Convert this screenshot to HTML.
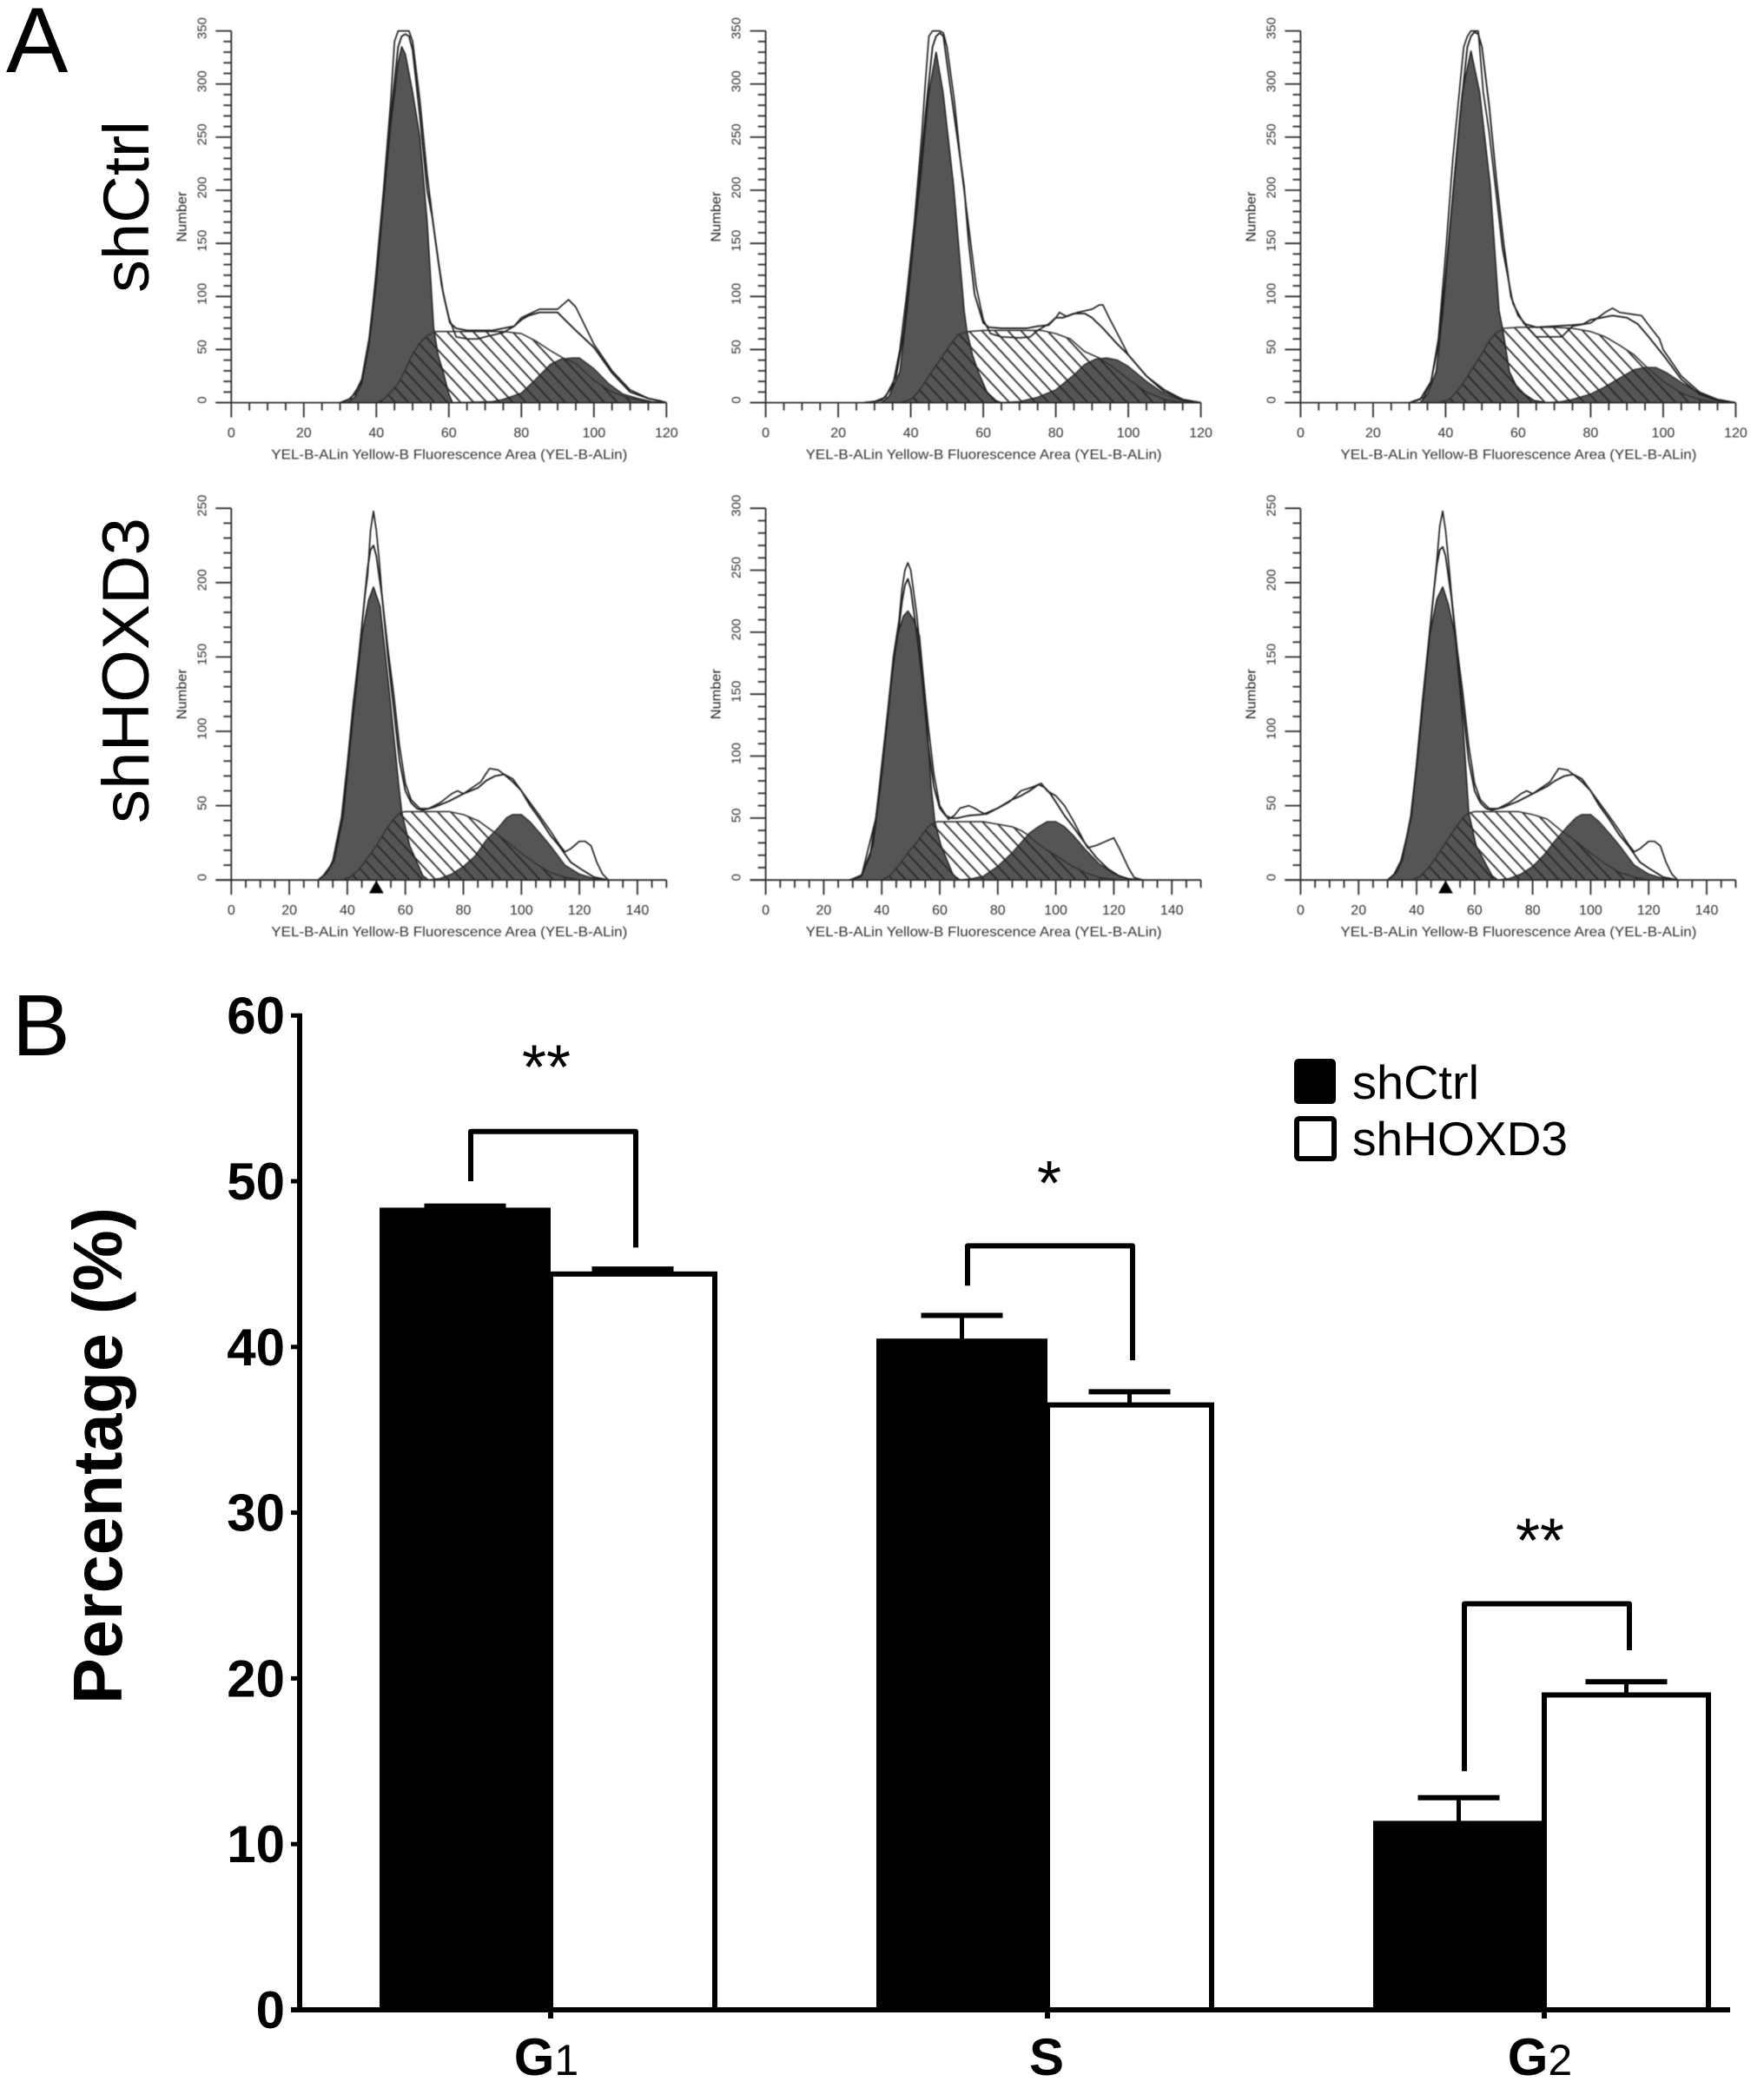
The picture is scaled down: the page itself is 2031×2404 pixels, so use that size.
<!DOCTYPE html>
<html lang="en">
<head>
<meta charset="utf-8">
<title>Cell cycle histograms and phase percentages</title>
<style>
html,body{margin:0;padding:0;background:#fff;}
svg{display:block;font-family:"Liberation Sans",sans-serif;}
</style>
</head>
<body>
<svg id="figure" xmlns="http://www.w3.org/2000/svg" width="2031" height="2404" viewBox="0 0 2031 2404">
<defs>
<pattern id="hatch" patternUnits="userSpaceOnUse" width="11" height="11" patternTransform="rotate(47)">
<line x1="0" y1="5" x2="11" y2="5" stroke="#222" stroke-width="1.7"/>
</pattern>
<filter id="soft" x="0" y="0" width="100%" height="100%"><feGaussianBlur stdDeviation="0.6"/></filter>
</defs>
<rect width="2031" height="2404" fill="#fff"/>
<text x="7" y="83" font-size="107" fill="#000">A</text>
<text x="14" y="1215" font-size="100" fill="#000">B</text>
<text transform="translate(171 238) rotate(-90)" text-anchor="middle" font-size="74" textLength="198" lengthAdjust="spacingAndGlyphs" fill="#000">shCtrl</text>
<text transform="translate(171 772) rotate(-90)" text-anchor="middle" font-size="76" textLength="352" lengthAdjust="spacingAndGlyphs" fill="#000">shHOXD3</text>
<g id="histograms" filter="url(#soft)"></g>
<g id="bars"></g>
<g>
<rect x="1491" y="1220" width="46" height="50" rx="4" fill="#000" stroke="#000" stroke-width="2"/>
<text x="1557" y="1265" font-size="55" textLength="146" lengthAdjust="spacingAndGlyphs" fill="#000">shCtrl</text>
<rect x="1493" y="1288" width="43" height="46" rx="3" fill="#fff" stroke="#000" stroke-width="6"/>
<text x="1557" y="1330" font-size="55" textLength="248" lengthAdjust="spacingAndGlyphs" fill="#000">shHOXD3</text>
</g>
</svg>
<script>
// ---------- Bar chart data ----------
const phaseCategories = ['G', 'S', 'G'];
const phaseSubscripts = ['1', '', '2'];
const shCtrlValues = [48.3, 40.4, 11.3];
const shHoxd3Values = [44.4, 36.5, 19.0];
const shCtrlErrors = [0.2, 1.5, 1.5];
const shHoxd3Errors = [0.3, 0.8, 0.8];
const percentTicks = [0, 10, 20, 30, 40, 50, 60];
const bracketTopValues = [53.0, 46.1, 24.5];
const bracketLeftEndValues = [50.0, 43.7, 14.4];
const bracketRightEndValues = [46.0, 39.2, 21.7];
const significanceMarks = ['**', '*', '**'];
const significanceValues = [58.2, 51.2, 29.65];

// ---------- Histogram data: [channel, count] ----------
const p1G1 = [[32,0],[34,5],[36,18],[38,55],[40,112],[42,190],[44,262],[46,320],[47,335],[48,328],[50,292],[52,250],[54,170],[55.8,70],[57,45],[58.5,28],[60,8],[61,0]];
const p1S = [[40,0],[42,3],[44,10],[46,18],[48,31],[50,46],[52,56],[54,63],[56,67],[65,67],[75,67],[80,65],[84,58],[88,49],[91.5,42],[95,37],[100,21],[105,10],[110,4],[115,1],[118,0]];
const p1G2 = [[62,0],[72,1],[75,3],[80,9],[84,22],[88,36],[91,41],[94,42],[96,42],[100,32],[104,18],[108,8],[112,4],[116,1],[119,0]];
const p1Fit = [[30,0],[32,2],[34,8],[36,22],[38,60],[40,120],[42,190],[44,270],[46,335],[47,345],[48,347],[49,345],[50,332],[52,270],[54,200],[55.4,175],[57.2,131],[58.5,102],[60.3,75],[62,70],[65,68],[72,68],[75,70],[78,72],[80,78],[82,82],[85,85],[90,85],[92,78],[95,68],[100,52],[105,28],[110,10],[115,4],[120,0]];
const p1Raw = [[30,0],[33,4],[36,20],[38,55],[40,125],[42,200],[44,285],[45,340],[46,350],[49,350],[50,340],[52,285],[54,215],[56,160],[58,110],[60,80],[62,62],[65,60],[68,60],[70,62],[75,66],[78,72],[80,80],[85,88],[90,88],[93,97],[95,90],[100,55],[105,30],[110,12],[115,4],[118,2],[120,0]];

const p2G1 = [[32,0],[34,6],[37,29],[39,87],[41,160],[42.5,204],[45,292],[47,330],[48.9,292],[51.8,204],[54.7,87],[55.5,67],[57,45],[58.6,29],[61,10],[63.5,2],[65,0]];
const p2S = [[37,0],[40,3],[42,10],[45,25],[48,40],[51,55],[53,64],[56,67],[60,68],[70,68],[76,68],[80,65],[84,60],[88,48],[92,42],[96,33],[100,22],[105,10],[110,3],[115,0]];
const p2G2 = [[65,0],[70,1],[75,5],[80,12],[85,26],[88,36],[91,41],[94,42],[97,40],[100,34],[105,20],[110,8],[115,2],[119,0]];
const p2Fit = [[27,0],[30,1],[33,5],[36,25],[38,65],[40,125],[42,195],[44,270],[46,335],[47,345],[48,348],[49,345],[50,320],[52,270],[54.7,204],[56,150],[57.6,102],[60,75],[61.5,71],[65,70],[72,70],[75,72],[78,73],[80,80],[82,80],[85,84],[88,84],[90,80],[93,70],[97,55],[100,45],[105,25],[110,10],[115,3],[120,0]];
const p2Raw = [[27,0],[32,2],[35,15],[37,50],[39,105],[41,170],[43,250],[44,300],[45,345],[46,350],[48,350],[49,348],[50,335],[52,285],[54,220],[56,165],[58,110],[60,78],[62,65],[65,62],[70,61],[73,62],[75,68],[78,74],[80,80],[81,85],[83,81],[86,85],[90,88],[92,92],[93,92],[95,78],[97,65],[100,45],[105,25],[110,12],[115,3],[118,1],[120,0]];

const p3G1 = [[33,0],[35,8],[37.4,29],[39.3,87],[42.2,204],[44.6,292],[47,331],[49.4,292],[52.3,204],[54.7,87],[55.7,70],[57.6,29],[60,12],[64.4,2],[68,0]];
const p3S = [[38,0],[41,3],[44,14],[47,30],[50,46],[52,58],[54,66],[56,70],[60,71],[70,71],[75,70],[80,67],[84,62],[88,54],[92,45],[95,35],[100,20],[105,9],[110,3],[115,0]];
const p3G2 = [[68,0],[72,1],[75,3],[80,8],[84,15],[88,23],[92,31],[95,33],[98,33],[101,28],[105,19],[110,9],[115,3],[119,0]];
const p3Fit = [[30,0],[33,3],[36,20],[38,55],[40,120],[42,195],[44,270],[46,335],[47,345],[48,349],[49,347],[50,335],[52,280],[54,210],[56,150],[58,100],[60,82],[62,74],[65,71],[70,72],[75,73],[78,74],[80,78],[83,80],[86,82],[90,80],[93,74],[96,62],[100,45],[105,22],[110,8],[115,2],[120,0]];
const p3Raw = [[30,0],[34,5],[36,20],[38,60],[40,140],[42,230],[44,300],[45,335],[46,345],[47,350],[49,350],[50.4,292],[52,255],[54,195],[55.7,145],[58.6,93],[61.5,75],[65,62],[72,62],[75,72],[80,75],[82,80],[84,85],[86,89],[88,85],[92,83],[94,82],[96,73],[99,60],[100,50],[105,25],[110,10],[115,3],[120,0]];

const p4G1 = [[30,0],[31.7,3],[35.5,13],[38.6,43],[41.7,104],[45,164],[47.3,188],[49,197],[51.3,184],[54.6,124],[57.7,64],[58.8,45],[61.5,23],[66,3],[68,0]];
const p4S = [[38,0],[41,2],[44,7],[47,15],[50,23],[53,33],[56,41],[58,45],[60,46],[70,46],[75,46],[80,44],[85,40],[90,33],[95,26],[100,18],[105,11],[110,5],[115,2],[120,0]];
const p4G2 = [[68,0],[72,1],[76,4],[80,9],[84,16],[88,27],[92,35],[95,42],[97,44],[100,44],[103,39],[107,30],[110,23],[115,10],[120,4],[125,1],[128,0]];
const p4Fit = [[30,0],[33,5],[35,12],[38,40],[40,75],[42,115],[44,150],[46,190],[47,210],[48,222],[49,225],[50,218],[52,190],[54,150],[56,115],[58,80],[60,60],[62,52],[64,48],[66,47],[70,49],[75,53],[80,58],[85,62],[88,67],[91,70],[94,71],[97,68],[100,60],[103,50],[106,42],[110,30],[113,23],[117,12],[120,8],[125,2],[130,0]];
const p4Raw = [[30,0],[33,5],[35,13],[38,42],[40,78],[42,118],[44,152],[46,190],[47,205],[48,235],[49,248],[50,235],[51,215],[52,190],[54,155],[56,125],[58,90],[60,65],[62,54],[65,48],[68,48],[72,52],[74,55],[76,58],[78,60],[80,58],[83,62],[86,66],[88,72],[89,75],[92,74],[94,71],[97,66],[100,60],[103,52],[106,44],[110,33],[113,24],[115,19],[117,21],[120,26],[122,26],[124,23],[126,12],[128,4],[130,0]];

const p5G1 = [[29,0],[33,4],[37,28],[39.6,76],[42.7,149],[45.4,197],[47.5,213],[49,217],[51,210],[53,197],[54.9,149],[57,76],[58.3,47],[60.4,28],[64.6,4],[67,0]];
const p5S = [[40,0],[43,4],[46,12],[49,22],[52,30],[55,40],[57,45],[59,47],[65,47],[75,47],[80,45],[85,43],[88,40],[90,37],[93,31],[97,24],[100,20],[105,12],[110,6],[115,2],[122,0]];
const p5G2 = [[67,0],[71,1],[75,3],[80,11],[85,22],[88,30],[91,38],[94,43],[97,47],[100,47],[103,43],[106,36],[110,25],[115,13],[120,5],[125,1],[127,0]];
const p5Fit = [[29,0],[33,3],[36,20],[38,50],[40,85],[42,130],[44,175],[46,205],[47,225],[48,238],[49,243],[50,235],[52,200],[54,160],[56,110],[58,75],[60,58],[62,52],[64,50],[66,50],[70,52],[75,53],[80,58],[85,65],[88,68],[91,72],[94,77],[96,75],[98,70],[100,63],[103,52],[106,43],[110,30],[114,18],[118,9],[122,3],[125,1],[130,0]];
const p5Raw = [[29,0],[33,3],[38,50],[42,135],[44,180],[46,210],[47,235],[48,250],[49,256],[50,250],[52,215],[54,170],[56,125],[58,85],[60,60],[63,49],[65,52],[67,58],[70,60],[72,58],[74,55],[76,53],[80,58],[84,63],[88,72],[92,75],[95,78],[97,72],[100,68],[103,60],[106,48],[110,30],[111,26],[114,28],[117,31],[120,34],[122,25],[125,10],[127,2],[130,0]];

const p6G1 = [[30,0],[32,3],[34.6,13],[38.3,43],[41.3,104],[44.5,164],[47,189],[49,197],[51,185],[53.3,164],[56,104],[58,45],[60.5,23],[66,3],[68,0]];
const p6S = [[38,0],[41,2],[44,8],[47,16],[50,25],[53,34],[56,42],[58,45],[60,46],[70,46],[75,46],[80,44],[85,41],[90,33],[95,26],[100,18],[105,11],[110,5],[115,2],[120,0]];
const p6G2 = [[68,0],[72,1],[76,4],[80,9],[84,17],[88,27],[92,36],[95,42],[97,44],[100,44],[103,39],[107,30],[110,23],[115,10],[120,4],[125,1],[128,0]];
const p6Fit = [[30,0],[33,5],[35,13],[38,42],[40,75],[42,115],[44,155],[46,195],[47,212],[48,222],[49,224],[50,218],[52,190],[54,152],[56,115],[58,80],[60,60],[62,52],[64,48],[66,47],[70,49],[75,53],[80,58],[85,63],[88,67],[91,70],[94,71],[97,68],[100,60],[103,50],[106,42],[110,30],[113,23],[117,12],[120,8],[125,2],[130,0]];
const p6Raw = [[30,0],[33,5],[35,13],[38,43],[40,78],[42,120],[44,158],[46,195],[47,215],[48,238],[49,248],[50,235],[51,215],[52,192],[54,155],[56,125],[58,90],[60,65],[62,54],[65,48],[68,48],[72,52],[74,55],[76,58],[78,60],[80,58],[83,62],[86,66],[88,72],[89,75],[92,74],[94,71],[97,66],[100,60],[103,52],[106,44],[110,33],[113,24],[115,19],[117,21],[120,26],[122,26],[124,23],[126,12],[128,4],[130,0]];

const xMaxTop = 120;
const xMaxBottom = 150;
const yMaxTop = 350;
const yMaxBottomOuter = 250;
const yMaxBottomMiddle = 300;

const NS = 'http://www.w3.org/2000/svg';

function addLine(parent, name, x1, y1, x2, y2, color, width) {
  const el = document.createElementNS(NS, 'line');
  
  
  el.setAttribute('x1', x1);
  el.setAttribute('y1', y1);
  el.setAttribute('x2', x2);
  el.setAttribute('y2', y2);
  el.setAttribute('stroke', color);
  el.setAttribute('stroke-width', width);
  parent.appendChild(el);
  return el;
}

function addText(parent, name, content, x, y, size, opts) {
  const el = document.createElementNS(NS, 'text');
  
  
  el.setAttribute('font-size', size);
  el.setAttribute('fill', opts.fill || '#000');
  el.setAttribute('text-anchor', opts.anchor || 'middle');
  if (opts.weight) el.setAttribute('font-weight', opts.weight);
  if (opts.length) {
    el.setAttribute('textLength', opts.length);
    el.setAttribute('lengthAdjust', 'spacingAndGlyphs');
  }
  if (opts.rotate) {
    el.setAttribute('transform', 'translate(' + x + ' ' + y + ') rotate(-90)');
  } else {
    el.setAttribute('x', x);
    el.setAttribute('y', y);
  }
  el.textContent = content;
  parent.appendChild(el);
  return el;
}

function addPath(parent, name, d, fill, stroke, width) {
  const el = document.createElementNS(NS, 'path');
  
  
  el.setAttribute('d', d);
  el.setAttribute('fill', fill);
  el.setAttribute('stroke', stroke);
  el.setAttribute('stroke-width', width);
  el.setAttribute('stroke-linejoin', 'round');
  parent.appendChild(el);
  return el;
}

// ---------- Histogram panels ----------
function drawHistogram(panel) {
  const root = document.getElementById('histograms');
  const g = document.createElementNS(NS, 'g');
  
  
  root.appendChild(g);

  const W = 501;
  const H = 428;
  const sx = v => panel.x0 + v / panel.xMax * W;
  const sy = v => panel.y0 - v / panel.yMax * H;
  const toPath = pts => pts.map((p, i) => (i ? 'L' : 'M') + sx(p[0]).toFixed(1) + ' ' + sy(p[1]).toFixed(1)).join(' ');
  const ink = '#2a2a2a';

  addPath(g, 'g1-phase-area', toPath(panel.g1) + ' Z', '#555', '#222', 1.6);
  addPath(g, 'g2-phase-area', toPath(panel.g2) + ' Z', '#555', '#333', 1.6);
  addPath(g, 's-phase-area', toPath(panel.s) + ' Z', 'url(#hatch)', '#333', 1.6);
  addPath(g, 'fit-curve', toPath(panel.fit), 'none', '#222', 1.9);
  addPath(g, 'raw-histogram-curve', toPath(panel.raw), 'none', '#222', 1.7);

  addLine(g, 'y-axis-line', panel.x0, sy(panel.yMax), panel.x0, panel.y0, ink, 1.8);
  addLine(g, 'x-axis-line', panel.x0 - 18, panel.y0, sx(panel.xMax), panel.y0, ink, 1.8);

  for (let v = 0; v <= panel.yMax; v += 10) {
    const major = v % 50 === 0;
    addLine(g, 'y-tick', panel.x0 - (major ? 18 : 9), sy(v), panel.x0, sy(v), ink, 1.8);
    if (major) {
      addText(g, 'y-tick-label', String(v), panel.x0 - 29, sy(v) - 3, 15, {rotate: true, fill: '#333'});
    }
  }
  for (let v = 0; v <= panel.xMax; v += 5) {
    const major = v % 20 === 0;
    addLine(g, 'x-tick', sx(v), panel.y0, sx(v), panel.y0 + (major ? 17 : 9), ink, 1.8);
    if (major) {
      addText(g, 'x-tick-label', String(v), sx(v), panel.y0 + 40, 16, {fill: '#333'});
    }
  }
  addText(g, 'y-axis-title', 'Number', panel.x0 - 52, (sy(panel.yMax) + panel.y0) / 2, 16, {rotate: true, fill: '#222', length: 58});
  addText(g, 'x-axis-title', 'YEL-B-ALin Yellow-B Fluorescence Area (YEL-B-ALin)', panel.x0 + 251, panel.y0 + 65, 16, {fill: '#333', length: 410});

  if (panel.marker !== null) {
    const mx = sx(panel.marker);
    addPath(g, 'gate-marker-triangle', 'M' + (mx - 8) + ' ' + (panel.y0 + 15) + ' L' + mx + ' ' + (panel.y0 + 1) + ' L' + (mx + 8) + ' ' + (panel.y0 + 15) + ' Z', '#000', '#000', 0.5);
  }
}

drawHistogram({name: 'histogram-shctrl-1', x0: 266.3, y0: 463.6, xMax: xMaxTop, yMax: yMaxTop, g1: p1G1, s: p1S, g2: p1G2, fit: p1Fit, raw: p1Raw, marker: null});
drawHistogram({name: 'histogram-shctrl-2', x0: 881.6, y0: 463.6, xMax: xMaxTop, yMax: yMaxTop, g1: p2G1, s: p2S, g2: p2G2, fit: p2Fit, raw: p2Raw, marker: null});
drawHistogram({name: 'histogram-shctrl-3', x0: 1497.4, y0: 463.6, xMax: xMaxTop, yMax: yMaxTop, g1: p3G1, s: p3S, g2: p3G2, fit: p3Fit, raw: p3Raw, marker: null});
drawHistogram({name: 'histogram-shhoxd3-1', x0: 266.3, y0: 1013.2, xMax: xMaxBottom, yMax: yMaxBottomOuter, g1: p4G1, s: p4S, g2: p4G2, fit: p4Fit, raw: p4Raw, marker: 50});
drawHistogram({name: 'histogram-shhoxd3-2', x0: 881.6, y0: 1013.2, xMax: xMaxBottom, yMax: yMaxBottomMiddle, g1: p5G1, s: p5S, g2: p5G2, fit: p5Fit, raw: p5Raw, marker: null});
drawHistogram({name: 'histogram-shhoxd3-3', x0: 1497.4, y0: 1013.2, xMax: xMaxBottom, yMax: yMaxBottomOuter, g1: p6G1, s: p6S, g2: p6G2, fit: p6Fit, raw: p6Raw, marker: 50});

// ---------- Bar chart ----------
function drawBars() {
  const g = document.getElementById('bars');
  const y = v => 2314 - v * 19.08;
  const center = i => 634 + 572 * i;
  const leftWidth = 197;
  const rightWidth = 189;
  const capHalf = 47;

  phaseCategories.forEach((cat, i) => {
    const c = center(i);

    const black = document.createElementNS(NS, 'rect');
    
    
    black.setAttribute('x', c - leftWidth);
    black.setAttribute('y', y(shCtrlValues[i]) - 2);
    black.setAttribute('width', leftWidth);
    black.setAttribute('height', y(0) - y(shCtrlValues[i]) + 2);
    black.setAttribute('fill', '#000');
    g.appendChild(black);

    const white = document.createElementNS(NS, 'rect');
    
    
    white.setAttribute('x', c);
    white.setAttribute('y', y(shHoxd3Values[i]));
    white.setAttribute('width', rightWidth);
    white.setAttribute('height', y(0) - y(shHoxd3Values[i]));
    white.setAttribute('fill', '#fff');
    white.setAttribute('stroke', '#000');
    white.setAttribute('stroke-width', 6);
    g.appendChild(white);

    const cx1 = c - leftWidth / 2;
    const cx2 = c + rightWidth / 2;
    const top1 = y(shCtrlValues[i] + shCtrlErrors[i]);
    const top2 = y(shHoxd3Values[i] + shHoxd3Errors[i]);
    addLine(g, 'error-bar-stem-shctrl', cx1, y(shCtrlValues[i]), cx1, top1, '#000', 5);
    addLine(g, 'error-bar-cap-shctrl', cx1 - capHalf, top1, cx1 + capHalf, top1, '#000', 6);
    addLine(g, 'error-bar-stem-shhoxd3', cx2, y(shHoxd3Values[i]), cx2, top2, '#000', 5);
    addLine(g, 'error-bar-cap-shhoxd3', cx2 - capHalf, top2, cx2 + capHalf, top2, '#000', 6);

    const bl = c - 92;
    const br = c + 98;
    addPath(g, 'significance-bracket',
      'M' + bl + ' ' + y(bracketLeftEndValues[i]) + ' L' + bl + ' ' + y(bracketTopValues[i]) +
      ' L' + br + ' ' + y(bracketTopValues[i]) + ' L' + br + ' ' + y(bracketRightEndValues[i]),
      'none', '#000', 6);
    addText(g, 'significance-mark', significanceMarks[i], c - 5 + (i === 1 ? 7 : 0), y(significanceValues[i]) + 50, 72, {});

    addLine(g, 'x-tick', c, 2314, c, 2324, '#000', 6);
    const label = addText(g, 'x-category-label', cat, c - (phaseSubscripts[i] ? 5 : 1), 2389, 60, {weight: 'bold'});
    if (phaseSubscripts[i]) {
      const sub = document.createElementNS(NS, 'tspan');
      
      
      sub.setAttribute('font-weight', 'normal');
      sub.setAttribute('font-size', '50');
      sub.textContent = phaseSubscripts[i];
      label.appendChild(sub);
    }
  });

  addLine(g, 'y-axis-line', 345, y(60) - 2.5, 345, y(0) + 2.5, '#000', 6);
  addLine(g, 'x-axis-line', 335, y(0), 1992, y(0), '#000', 6);
  percentTicks.forEach(v => {
    addLine(g, 'y-tick', 335, y(v), 345, y(v), '#000', 5);
    addText(g, 'y-tick-label', String(v), 328, y(v) + 21, 60, {weight: 'bold', anchor: 'end'});
  });
  addText(g, 'y-axis-title', 'Percentage (%)', 140, 1676, 80, {weight: 'bold', rotate: true, length: 572});
}
drawBars();
</script>
</body>
</html>
